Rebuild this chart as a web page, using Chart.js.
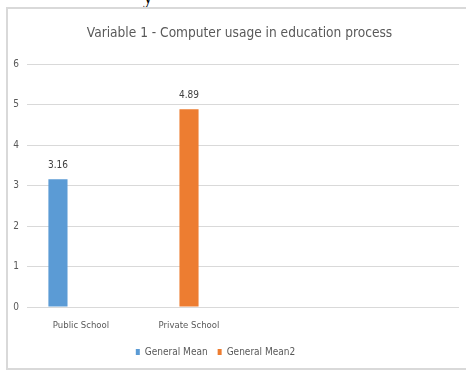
<!DOCTYPE html>
<html>
<head>
<meta charset="utf-8">
<script src="https://cdn.jsdelivr.net/npm/chart.js@4.4.1/dist/chart.umd.min.js"></script>
<style>
  body { margin: 0; background: #fff; }
  #wrap { position: relative; width: 466px; height: 373px; overflow: hidden; }
  #frame { position: absolute; left: 6px; top: 7px; width: 480px; height: 363px;
           border: 2px solid #d9d9d9; box-sizing: border-box; }
  #frag { position: absolute; left: 143px; top: -15px; font: 20px 'Liberation Serif', serif; color: #000; }
  canvas { position: absolute; left: 0; top: 0; }
</style>
</head>
<body>
<div id="wrap">
  <div id="frag">y</div>
  <div id="frame"></div>
  <canvas id="chart" width="466" height="373"></canvas>
</div>
<script>
const categories = ['Public School', 'Private School', '', ''];
const generalMean = [3.16, null, null, null];
const generalMean2 = [null, 4.89, null, null];
const spare = [null, null, null, null];   // empty third series in the original
const yTicks = [0, 1, 2, 3, 4, 5, 6];

const font = "'Liberation Sans Narrow', 'DejaVu Sans Condensed', sans-serif";

/* -------- value labels above bars -------- */
const valueLabels = {
    id: 'valueLabels',
    afterDatasetsDraw(chart) {
        const ctx = chart.ctx;
        ctx.save();
        ctx.font = '10px ' + font;
        ctx.fillStyle = '#404040';
        ctx.textAlign = 'center';
        ctx.textBaseline = 'middle';
        chart.data.datasets.forEach((ds, i) => {
            chart.getDatasetMeta(i).data.forEach((bar, j) => {
                if (ds.data[j] == null) return;
                ctx.fillText(ds.data[j].toFixed(2), bar.x, bar.y - 14);
            });
        });
        ctx.restore();
    }
};

/* -------- nudge title / legend like the original -------- */
const nudgeBoxes = {
    id: 'nudgeBoxes',
    afterLayout(chart) {
        chart.titleBlock.left += 10;
        chart.titleBlock.right += 10;
        chart.legend.left -= 14;
        chart.legend.right -= 14;
    }
};

new Chart(document.getElementById('chart'), {
    type: 'bar',
    data: {
        labels: categories,
        datasets: [
            { label: 'General Mean', data: generalMean, backgroundColor: '#5b9bd5' },
            { label: 'General Mean2', data: generalMean2, backgroundColor: '#ed7d31' },
            { label: '', data: spare, backgroundColor: '#a5a5a5' }
        ]
    },
    options: {
        responsive: false,
        animation: false,
        categoryPercentage: 0.64,
        barPercentage: 0.83,
        layout: { padding: { left: 0, right: 7, top: 0, bottom: 6 } },
        plugins: {
            title: {
                display: true,
                text: 'Variable 1 - Computer usage in education process',
                color: '#595959',
                font: { family: font, size: 13.6, weight: 'normal' },
                padding: { top: 25, bottom: 23 }
            },
            legend: {
                position: 'bottom',
                labels: {
                    filter: item => item.text !== '',
                    boxWidth: 4,
                    boxHeight: 6,
                    color: '#595959',
                    font: { family: font, size: 10 },
                    padding: 10
                }
            },
            tooltip: { enabled: false }
        },
        scales: {
            x: {
                grid: { display: false },
                border: { display: false },
                ticks: { color: '#595959', font: { family: font, size: 9.5 }, padding: 5 },
                afterFit(scale) { scale.height = 30; }
            },
            y: {
                min: 0,
                max: 6,
                afterBuildTicks(scale) { scale.ticks = yTicks.map(v => ({ value: v })); },
                grid: { color: '#d9d9d9', drawTicks: false },
                border: { display: false },
                ticks: { color: '#595959', font: { family: font, size: 10 }, padding: 8 },
                afterFit(scale) { scale.width = 27; }
            }
        }
    },
    plugins: [valueLabels, nudgeBoxes]
});
</script>
</body>
</html>
